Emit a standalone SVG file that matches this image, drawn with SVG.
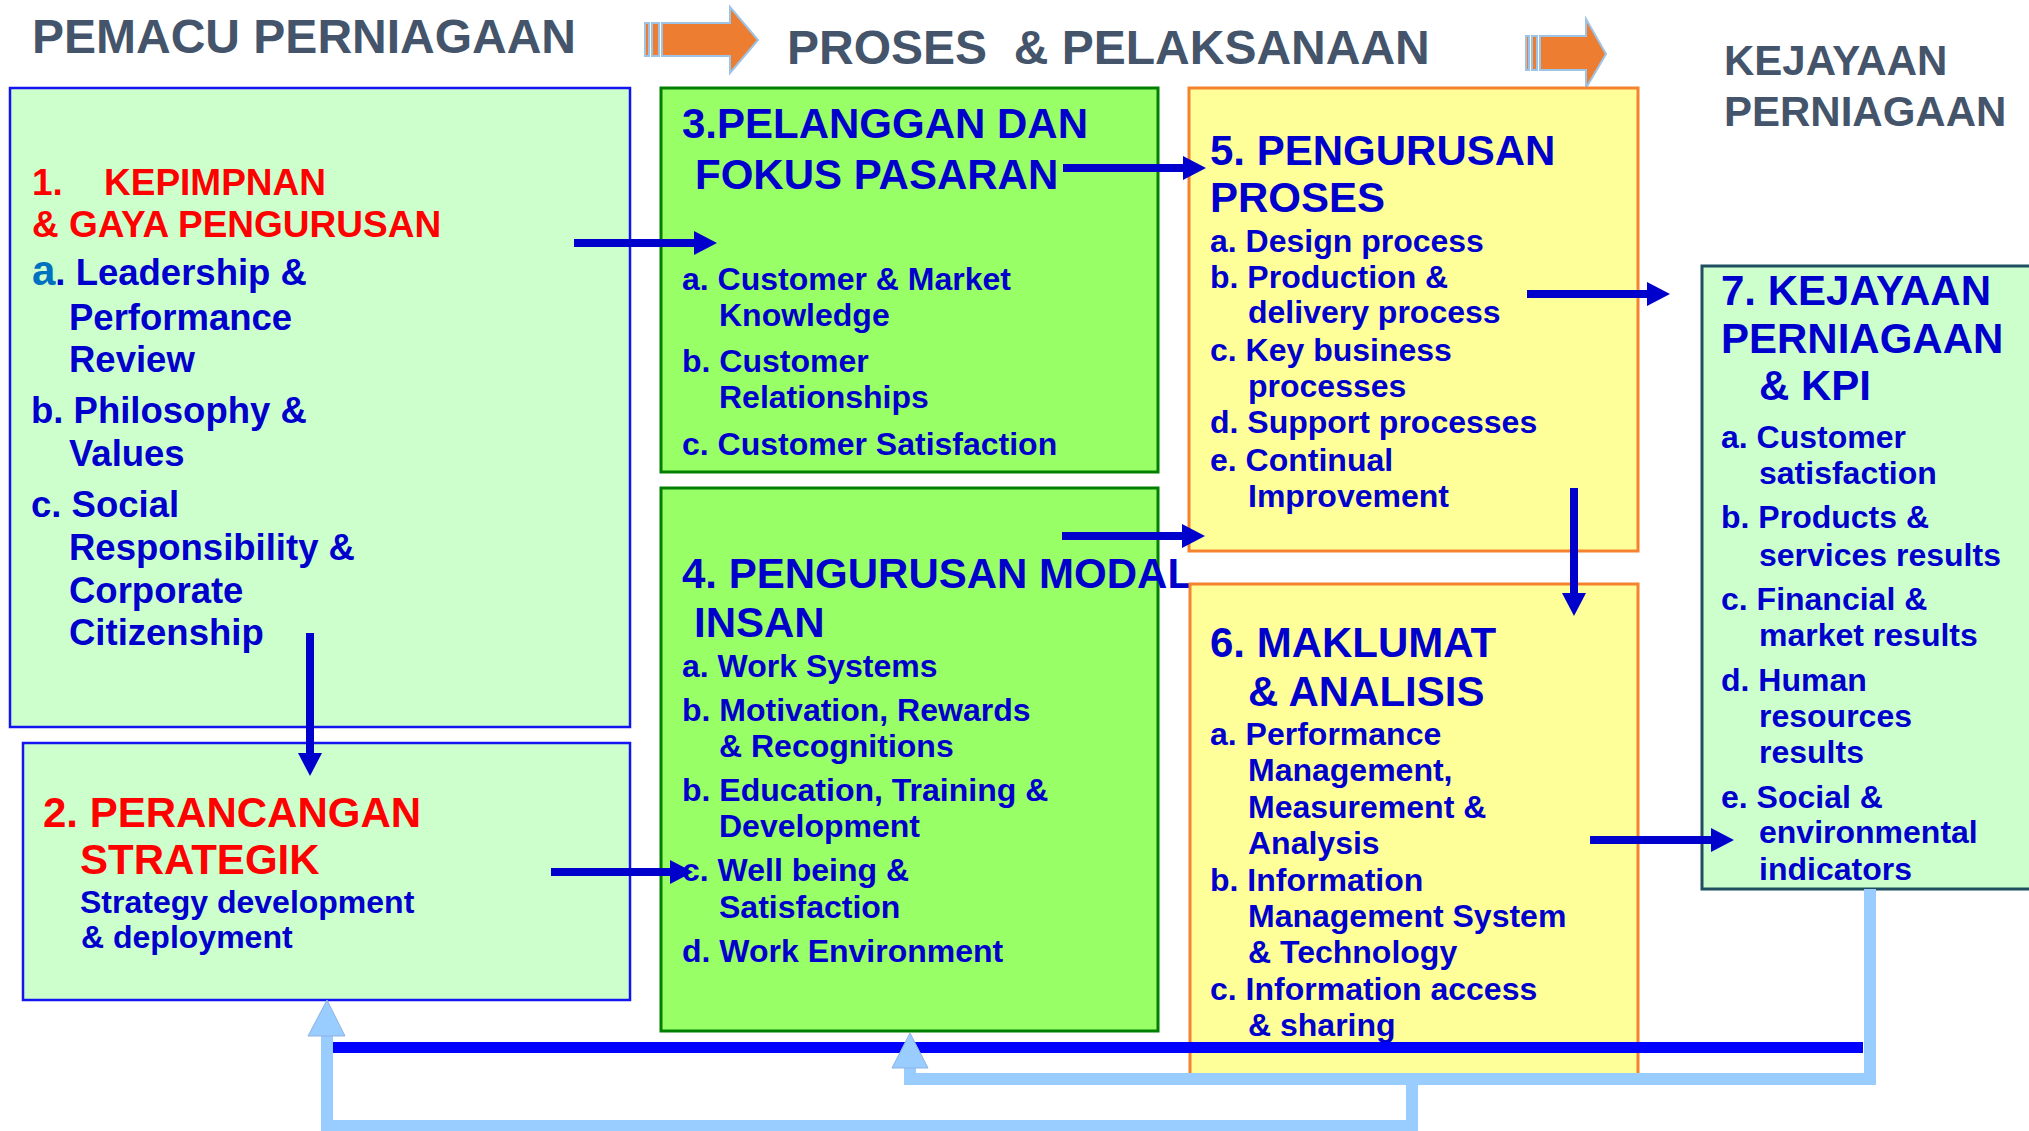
<svg xmlns="http://www.w3.org/2000/svg" width="2029" height="1131" viewBox="0 0 2029 1131">
<defs>
<style>
text{font-family:"Liberation Sans",Arial,sans-serif;font-weight:bold;}
.hdr{fill:#44546A;font-size:48px;}
.hdr2{fill:#44546A;font-size:42px;}
.red{fill:#FF0000;}
.blu{fill:#0000CC;}
.t42{font-size:42px;}
.t37{font-size:37px;}
.t36{font-size:36.5px;}
.t32{font-size:32px;}
.b1{fill:#CCFFCC;stroke:#1414F0;stroke-width:2.5;}
.b3{fill:#99FF66;stroke:#007F00;stroke-width:3;}
.b5{fill:#FFFF99;stroke:#F4822F;stroke-width:3;}
.b7{fill:#CCFFCC;stroke:#1F4E60;stroke-width:3;}
.con{stroke:#0000CC;stroke-width:8;fill:none;marker-end:url(#ah);}
.fb{stroke:#99CCFF;stroke-width:12;fill:none;}
.fbh{fill:#99CCFF;stroke:#8DB3E2;stroke-width:1;}
.orr{fill:#ED7D31;stroke:#9DC3E6;stroke-width:2;}
</style>
<marker id="ah" viewBox="0 0 23 24" refX="0" refY="12" markerWidth="23" markerHeight="24" markerUnits="userSpaceOnUse" orient="auto">
<path d="M0,0 L23,12 L0,24 z" fill="#0000CC"/>
</marker>
</defs>
<rect width="2029" height="1131" fill="#FFFFFF"/>

<g id="headers">
<text class="hdr" x="32" y="53">PEMACU PERNIAGAAN</text>
<text class="hdr" x="787" y="64" style="white-space:pre">PROSES  &amp; PELAKSANAAN</text>
<text class="hdr2" x="1724" y="75">KEJAYAAN</text>
<text class="hdr2" x="1724" y="126">PERNIAGAAN</text>
</g>

<g id="header-arrow-1">
<rect class="orr" x="645" y="23" width="4" height="33"/>
<rect class="orr" x="652" y="23" width="7" height="33"/>
<path class="orr" d="M662,23 L730,23 L730,7 L758,40 L730,73 L730,56 L662,56 Z"/>
</g>
<g id="header-arrow-2">
<rect class="orr" x="1526" y="36" width="3" height="34"/>
<rect class="orr" x="1532" y="36" width="5" height="34"/>
<path class="orr" d="M1540,36 L1586,36 L1586,19 L1606,54 L1586,88 L1586,70 L1540,70 Z"/>
</g>

<g id="node1">
<rect class="b1" x="10" y="88" width="620" height="639"/>
<text class="red t37" x="32" y="195">1.</text>
<text class="red t37" x="104" y="195">KEPIMPNAN</text>
<text class="red t37" x="32" y="237">&amp; GAYA PENGURUSAN</text>
<text class="blu t36" x="32" y="285"><tspan fill="#0070C0" font-size="42">a</tspan>. Leadership &amp;</text>
<text class="blu t36" x="69" y="330">Performance</text>
<text class="blu t36" x="69" y="372">Review</text>
<text class="blu t36" x="31" y="423">b. Philosophy &amp;</text>
<text class="blu t36" x="69" y="466">Values</text>
<text class="blu t36" x="31" y="517">c. Social</text>
<text class="blu t36" x="69" y="560">Responsibility &amp;</text>
<text class="blu t36" x="69" y="603">Corporate</text>
<text class="blu t36" x="69" y="645">Citizenship</text>
</g>

<g id="node2">
<rect class="b1" x="23" y="743" width="607" height="257"/>
<text class="red t42" x="43" y="827">2. PERANCANGAN</text>
<text class="red t42" x="80" y="874">STRATEGIK</text>
<text class="blu t32" x="80" y="913">Strategy development</text>
<text class="blu t32" x="81" y="948">&amp; deployment</text>
</g>

<g id="node3">
<rect class="b3" x="661" y="88" width="497" height="384"/>
<text class="blu t42" x="682" y="138">3.PELANGGAN DAN</text>
<text class="blu t42" x="695" y="189">FOKUS PASARAN</text>
<text class="blu t32" x="682" y="290">a. Customer &amp; Market</text>
<text class="blu t32" x="719" y="326">Knowledge</text>
<text class="blu t32" x="682" y="372">b. Customer</text>
<text class="blu t32" x="719" y="408">Relationships</text>
<text class="blu t32" x="682" y="455">c. Customer Satisfaction</text>
</g>

<g id="node4">
<rect class="b3" x="661" y="488" width="497" height="543"/>
<text class="blu t42" x="682" y="588">4. PENGURUSAN MODAL</text>
<text class="blu t42" x="694" y="637">INSAN</text>
<text class="blu t32" x="682" y="677">a. Work Systems</text>
<text class="blu t32" x="682" y="721">b. Motivation, Rewards</text>
<text class="blu t32" x="719" y="757">&amp; Recognitions</text>
<text class="blu t32" x="682" y="801">b. Education, Training &amp;</text>
<text class="blu t32" x="719" y="837">Development</text>
<text class="blu t32" x="682" y="881">c. Well being &amp;</text>
<text class="blu t32" x="719" y="918">Satisfaction</text>
<text class="blu t32" x="682" y="962">d. Work Environment</text>
</g>

<g id="node5">
<rect class="b5" x="1189" y="88" width="449" height="463"/>
<text class="blu t42" x="1210" y="165">5. PENGURUSAN</text>
<text class="blu t42" x="1210" y="212">PROSES</text>
<text class="blu t32" x="1210" y="252">a. Design process</text>
<text class="blu t32" x="1210" y="288">b. Production &amp;</text>
<text class="blu t32" x="1248" y="323">delivery process</text>
<text class="blu t32" x="1210" y="361">c. Key business</text>
<text class="blu t32" x="1248" y="397">processes</text>
<text class="blu t32" x="1210" y="433">d. Support processes</text>
<text class="blu t32" x="1210" y="471">e. Continual</text>
<text class="blu t32" x="1248" y="507">Improvement</text>
</g>

<g id="node6">
<rect class="b5" x="1190" y="584" width="448" height="492"/>
<text class="blu t42" x="1210" y="657">6. MAKLUMAT</text>
<text class="blu t42" x="1248" y="706">&amp; ANALISIS</text>
<text class="blu t32" x="1210" y="745">a. Performance</text>
<text class="blu t32" x="1248" y="781">Management,</text>
<text class="blu t32" x="1248" y="818">Measurement &amp;</text>
<text class="blu t32" x="1248" y="854">Analysis</text>
<text class="blu t32" x="1210" y="891">b. Information</text>
<text class="blu t32" x="1248" y="927">Management System</text>
<text class="blu t32" x="1248" y="963">&amp; Technology</text>
<text class="blu t32" x="1210" y="1000">c. Information access</text>
<text class="blu t32" x="1248" y="1036">&amp; sharing</text>
</g>

<g id="node7">
<rect class="b7" x="1702" y="266" width="340" height="623"/>
<text class="blu t42" x="1721" y="305">7. KEJAYAAN</text>
<text class="blu t42" x="1721" y="353">PERNIAGAAN</text>
<text class="blu t42" x="1759" y="400">&amp; KPI</text>
<text class="blu t32" x="1721" y="448">a. Customer</text>
<text class="blu t32" x="1759" y="484">satisfaction</text>
<text class="blu t32" x="1721" y="528">b. Products &amp;</text>
<text class="blu t32" x="1759" y="566">services results</text>
<text class="blu t32" x="1721" y="610">c. Financial &amp;</text>
<text class="blu t32" x="1759" y="646">market results</text>
<text class="blu t32" x="1721" y="691">d. Human</text>
<text class="blu t32" x="1759" y="727">resources</text>
<text class="blu t32" x="1759" y="763">results</text>
<text class="blu t32" x="1721" y="808">e. Social &amp;</text>
<text class="blu t32" x="1759" y="843">environmental</text>
<text class="blu t32" x="1759" y="880">indicators</text>
</g>

<g id="connectors">
<path class="con" d="M574,243 L694,243"/>
<path class="con" d="M1063,168 L1183,168"/>
<path class="con" d="M1062,536 L1182,536"/>
<path class="con" d="M310,633 L310,753"/>
<path class="con" d="M551,872 L670,872"/>
<path class="con" d="M1527,294 L1647,294"/>
<path class="con" d="M1574,488 L1574,593"/>
<path class="con" d="M1590,840 L1711,840"/>
<rect x="333" y="1042" width="1530" height="11" fill="#0000FF"/>
<path class="fb" d="M1870,889 L1870,1079 L910,1079 L910,1066"/>
<polygon class="fbh" points="892,1068 910,1033 928,1068"/>
<path class="fb" d="M1412,1079 L1412,1126 L327,1126 L327,1034"/>
<polygon class="fbh" points="308,1036 327,1000 345,1036"/>
</g>
</svg>
